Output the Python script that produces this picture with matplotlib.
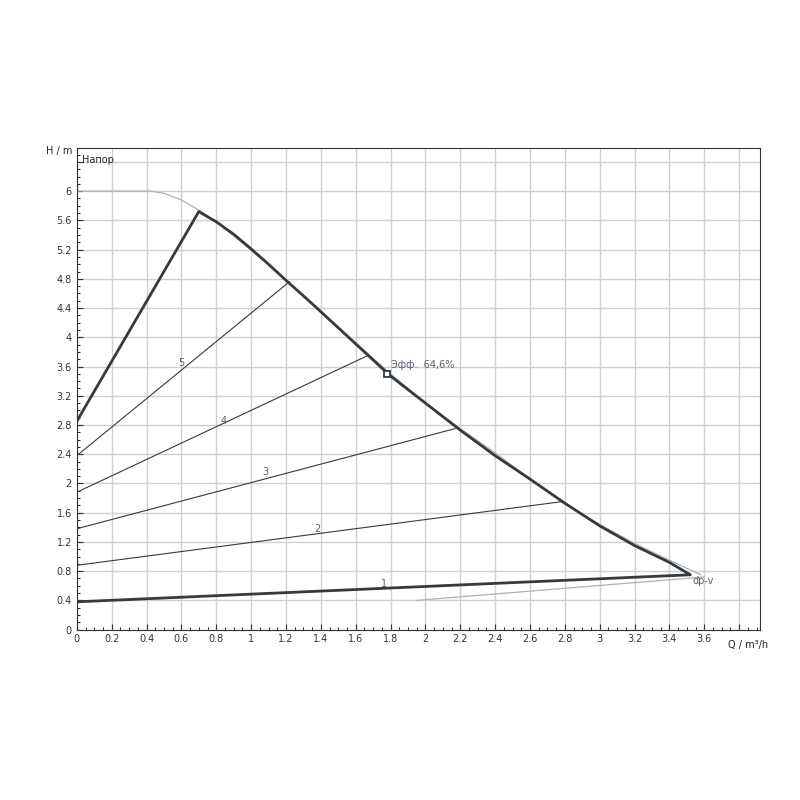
import matplotlib
matplotlib.use("Agg")
import matplotlib.pyplot as plt
from matplotlib.ticker import MultipleLocator

max_q = [0, 0.42, 0.5, 0.6, 0.7, 0.8, 0.9, 1.0, 1.1, 1.2, 1.35, 1.5, 1.65, 1.8, 2.0, 2.2, 2.4, 2.6, 2.8, 3.0, 3.2, 3.4, 3.58]
max_h = [6.0, 6.0, 5.97, 5.88, 5.74, 5.58, 5.39, 5.19, 4.99, 4.78, 4.46, 4.14, 3.82, 3.5, 3.1, 2.75, 2.42, 2.06, 1.72, 1.44, 1.18, 0.95, 0.75]
op_q = [0, 0.7, 0.8, 0.9, 1.0, 1.1, 1.2, 1.35, 1.5, 1.65, 1.8, 2.0, 2.2, 2.4, 2.6, 2.8, 3.0, 3.2, 3.4, 3.52, 0]
op_h = [2.85, 5.72, 5.58, 5.41, 5.21, 5.0, 4.78, 4.46, 4.13, 3.8, 3.47, 3.1, 2.73, 2.38, 2.06, 1.73, 1.42, 1.15, 0.92, 0.75, 0.38]
min_q = [1.95, 3.6]
min_h = [0.4, 0.72]
speed_q0 = [0, 0, 0, 0]
speed_h0 = [0.88, 1.38, 1.88, 2.38]
speed_q1 = [2.78, 2.17, 1.67, 1.22]
speed_h1 = [1.75, 2.75, 3.75, 4.76]
label_q = [1.76, 1.38, 1.08, 0.84, 0.6]
label_h = [0.63, 1.38, 2.15, 2.85, 3.65]
label_t = ["1", "2", "3", "4", "5"]
eff_q, eff_h = 1.78, 3.5

fig = plt.figure(figsize=(8, 8), dpi=100)
ax = fig.add_axes([0.096, 0.213, 0.854, 0.602])
ax.set_xlim(0, 3.92)
ax.set_ylim(0, 6.59)
ax.xaxis.set_minor_locator(MultipleLocator(0.05))
ax.yaxis.set_minor_locator(MultipleLocator(0.1))
ax.set_xticks([i * 0.2 for i in range(20)])
ax.set_xticklabels(["0"] + [f"{i*0.2:.1f}".rstrip('0').rstrip('.') for i in range(1, 19)] + [""])
ax.set_yticks([i * 0.4 for i in range(17)])
ax.set_yticklabels(["0"] + [f"{i*0.4:.1f}".rstrip('0').rstrip('.') for i in range(1, 16)] + [""])
ax.grid(True, which="major", color="#d0d0d0", lw=1)
ax.tick_params(labelsize=7, colors="#333333", length=4, direction="in")
ax.tick_params(which="minor", length=2, direction="in")
for s in ax.spines.values():
    s.set_color("#333333")

ax.plot(max_q, max_h, color="#b0b0b0", lw=0.9)
ax.plot(min_q, min_h, color="#b0b0b0", lw=0.9)
for q0, h0, q1, h1 in zip(speed_q0, speed_h0, speed_q1, speed_h1):
    ax.plot([q0, q1], [h0, h1], color="#333a40", lw=0.8)
ax.plot(op_q, op_h, color="#333a40", lw=2)
for q, h, t in zip(label_q, label_h, label_t):
    ax.text(q, h, t, fontsize=7, color="#556070", ha="center", va="center")
ax.plot([eff_q], [eff_h], marker="s", ms=5, mfc="white", mec="#333a40", mew=1.3)
ax.text(eff_q + 0.02, eff_h + 0.08, "Эфф.  64,6%", fontsize=7, color="#556070")
ax.text(3.53, 0.62, "dp-v", fontsize=7, color="#556070")
ax.text(0.03, 6.5, "Напор", fontsize=7, color="#222222", va="top")
fig.text(0.058, 0.808, "H / m", fontsize=7, color="#222222", ha="left")
fig.text(0.91, 0.19, "Q / m³/h", fontsize=7, color="#222222", ha="left")
fig.savefig("out.png")
